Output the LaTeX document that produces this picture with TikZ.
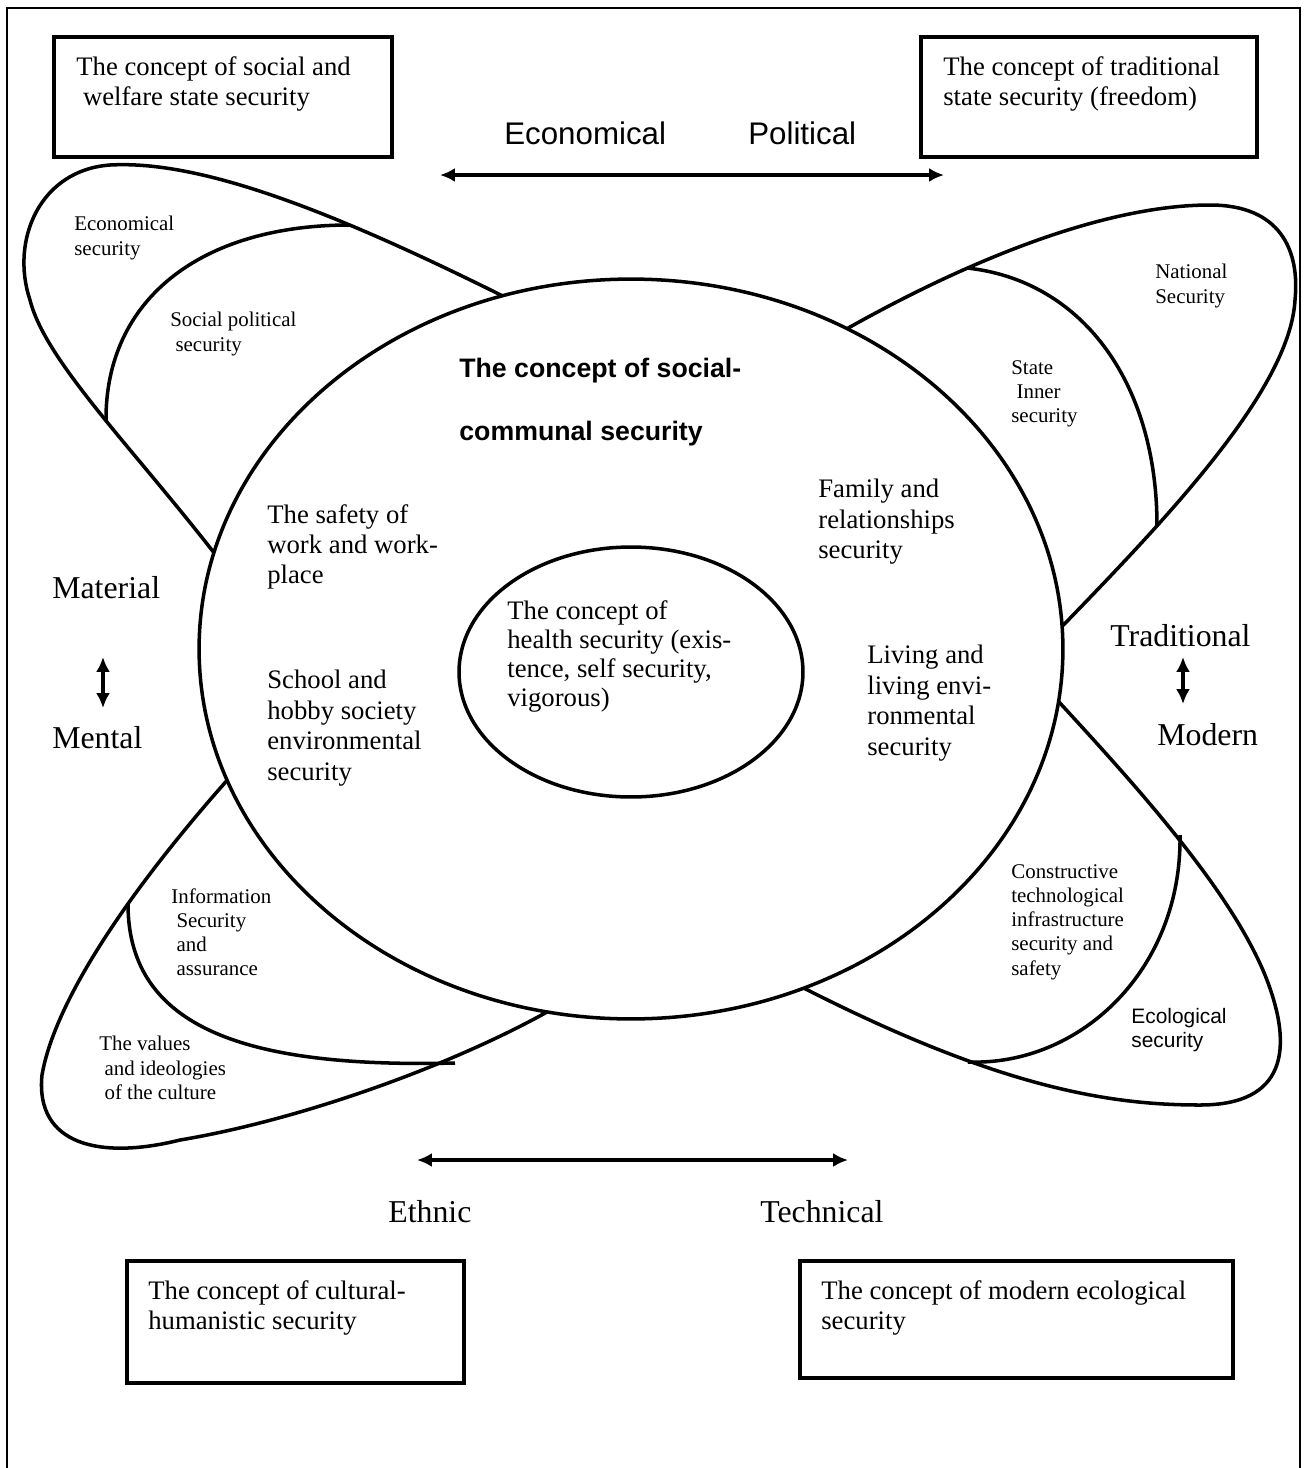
\documentclass[tikz,border=0pt]{standalone}
\usepackage{fontspec}
\setmainfont{Liberation Serif}
\setsansfont{Liberation Sans}
\usepackage{tikz}
\usetikzlibrary{arrows.meta,shapes.geometric,positioning}

\tikzstyle{petal} = [line width=2pt, line join=round]
\tikzstyle{ring} = [draw, ellipse, line width=2pt, inner sep=0pt, outer sep=0pt]
\tikzstyle{conceptbox} = [draw, line width=2pt, inner sep=0pt, outer sep=0pt, anchor=north west]
\tikzstyle{boxtxt} = [inner sep=0pt, align=left, font=\fontsize{15.2}{17}\selectfont]
\tikzstyle{bigtxt} = [anchor=north west, inner sep=0pt, align=left, font=\fontsize{15.2}{17.3}\selectfont]
\tikzstyle{smalltxt} = [anchor=north west, inner sep=0pt, align=left, font=\fontsize{11.9}{13.8}\selectfont]
\tikzstyle{axislbl} = [anchor=base west, inner sep=0pt, font=\fontsize{18.1}{21}\selectfont]
\tikzstyle{dimlbl} = [anchor=base west, inner sep=0pt, font=\sffamily\fontsize{17.8}{21}\selectfont]
\tikzstyle{twoway} = [line width=2pt, {Latex[length=8.5pt,width=8pt]}-{Latex[length=8.5pt,width=8pt]}]

\begin{document}
\begin{tikzpicture}[x=0.02cm, y=-0.02cm]
\useasboundingbox (0,0) rectangle (1305,1468);
% Frame
\draw[line width=1.6pt] (7,1468) -- (7,8) -- (1300,8) -- (1300,1468);

% Concept boxes in the corners
\node[conceptbox, minimum width=6.76cm, minimum height=2.4cm] (welfBox) at (54,37) {};
\node[boxtxt, below right=0.38cm and 0.44cm of welfBox.north west] (welfTxt) {The concept of social and\\\ welfare state security};
\node[conceptbox, minimum width=6.72cm, minimum height=2.4cm] (tradBox) at (921,37) {};
\node[boxtxt, below right=0.38cm and 0.44cm of tradBox.north west] (tradTxt) {The concept of traditional\\state security (freedom)};
\node[conceptbox, minimum width=6.74cm, minimum height=2.44cm] (cultBox) at (127,1261) {};
\node[boxtxt, below right=0.38cm and 0.42cm of cultBox.north west] (cultTxt) {The concept of cultural-\\humanistic security};
\node[conceptbox, minimum width=8.66cm, minimum height=2.34cm] (ecoBox) at (800,1261) {};
\node[boxtxt, below right=0.38cm and 0.42cm of ecoBox.north west] (ecoTxt) {The concept of modern ecological\\security};

% Central ellipses
\node[ring, minimum width=17.28cm, minimum height=14.8cm] (comm) at (631,649) {};
\node[ring, minimum width=6.88cm, minimum height=5.0cm] (health) at (631,672) {};

% Petals
\draw[petal] (comm.110) .. controls (330,210) and (200,160) .. (110,165) .. controls (40,170) and (10,240) .. (30,300) .. controls (45,360) and (130,445) .. (comm.167);
\draw[petal] (350,225) .. controls (200,225) and (105,300) .. (106,421);
\draw[petal] (comm.56) .. controls (960,265) and (1100,205) .. (1210,205) .. controls (1280,205) and (1300,250) .. (1295,300) .. controls (1290,390) and (1165,520) .. (comm.3);
\draw[petal] (967,268) .. controls (1080,280) and (1157,380) .. (1157,526);
\draw[petal] (comm.198) .. controls (130,890) and (55,1000) .. (42,1075) .. controls (35,1145) and (100,1160) .. (180,1140) .. controls (300,1120) and (450,1066) .. (comm.257);
\draw[petal] (128,904) .. controls (128,1030) and (250,1068) .. (455,1063);
\draw[petal] (comm.-7) .. controls (1140,790) and (1230,890) .. (1265,975) .. controls (1295,1050) and (1285,1105) .. (1200,1105) .. controls (1110,1105) and (1000,1088) .. (comm.-63);
\draw[petal] (1180,835) .. controls (1182,970) and (1080,1066) .. (968,1062);

% Petal labels
\node[smalltxt] (econSec) at (74,216) {Economical\\security};
\node[smalltxt] (socpolSec) at (170,312) {Social political\\\ security};
\node[smalltxt] (natSec) at (1155,264) {National\\Security};
\node[smalltxt] (stateSec) at (1011,360) {State\\\ Inner\\security};
\node[smalltxt] (infoSec) at (171,888) {Information\\\ Security\\\ and\\\ assurance};
\node[smalltxt] (valSec) at (99,1036) {The values\\\ and ideologies\\\ of the culture};
\node[smalltxt] (techSec) at (1011,864) {Constructive\\technological\\infrastructure\\security and\\safety};
\node[smalltxt, font=\sffamily\fontsize{11.9}{13.8}\selectfont] (ecolSec) at (1131,1008) {Ecological\\security};

% Labels in the social-communal ellipse
\node[bigtxt, font=\sffamily\bfseries\fontsize{15.2}{35.9}\selectfont] (commTitle) at (459,358) {The concept of social-\\communal security};
\node[bigtxt] (workSec) at (267,504) {The safety of\\work and work-\\place};
\node[bigtxt] (schoolSec) at (267,670) {School and\\hobby society\\environmental\\security};
\node[bigtxt] (familySec) at (818,479) {Family and\\relationships\\security};
\node[bigtxt] (livingSec) at (867,645) {Living and\\living envi-\\ronmental\\security};
\node[bigtxt, font=\fontsize{15.2}{16.5}\selectfont] (healthTxt) at (507,600) {The concept of\\health security (exis-\\tence, self security,\\vigorous)};

% Axes
\node[dimlbl] (econLbl) at (504,144) {Economical};
\node[dimlbl] (polLbl) at (748,144) {Political};
\coordinate (topL) at (440,175);
\coordinate (topR) at (944,175);
\draw[twoway] (topL) -- (topR);

\node[axislbl] (ethLbl) at (388,1222) {Ethnic};
\node[axislbl] (techLbl) at (760,1222) {Technical};
\coordinate (botL) at (417,1160);
\coordinate (botR) at (848,1160);
\draw[twoway] (botL) -- (botR);

\node[axislbl] (matLbl) at (52,598) {Material};
\node[axislbl] (mentLbl) at (52,748) {Mental};
\coordinate (matEnd) at (103,657);
\coordinate (mentEnd) at (103,708);
\draw[twoway] (matEnd) -- (mentEnd);

\node[axislbl] (tradLbl) at (1110,646) {Traditional};
\node[axislbl] (modLbl) at (1157,745) {Modern};
\coordinate (tradEnd) at (1183,657);
\coordinate (modEnd) at (1183,704);
\draw[twoway] (tradEnd) -- (modEnd);
\end{tikzpicture}
\end{document}
